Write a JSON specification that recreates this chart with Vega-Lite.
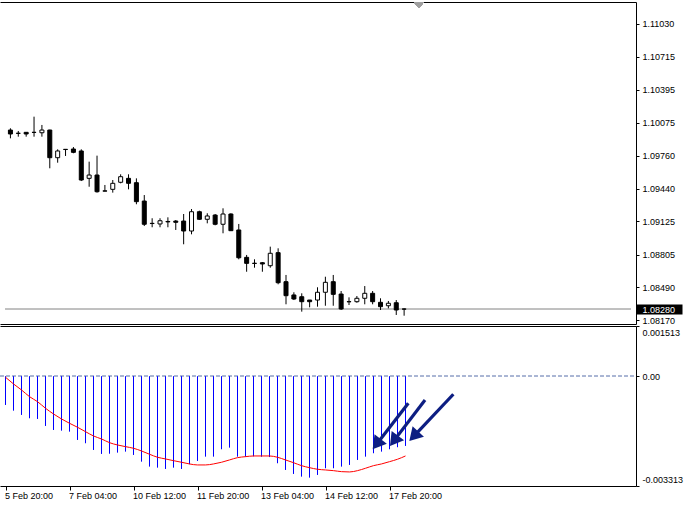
{
  "$schema": "https://vega.github.io/schema/vega-lite/v6.json",
  "background": "white",
  "padding": {"left": 0, "top": 2, "right": 0, "bottom": 0},
  "bounds": "flush",
  "spacing": 2,
  "config": {
    "view": {"stroke": null},
    "axis": {"labelFont": "Liberation Sans", "labelFontSize": 9, "labelColor": "black", "domainColor": "black", "tickColor": "black", "grid": false, "labelOverlap": false, "labelBound": false}
  },
  "datasets": {
    "bars": [
      {"i": 0, "time": "5 Feb 20:00", "open": 1.10007, "high": 1.10024, "low": 1.09927, "close": 1.09969, "hist": -0.000869, "signal": -0.000033},
      {"i": 1, "time": "6 Feb 00:00", "open": 1.09976, "high": 1.09998, "low": 1.09943, "close": 1.09975, "hist": -0.001041, "signal": -0.000235},
      {"i": 2, "time": "6 Feb 04:00", "open": 1.09985, "high": 1.09987, "low": 1.09943, "close": 1.09969, "hist": -0.00117, "signal": -0.000416},
      {"i": 3, "time": "6 Feb 08:00", "open": 1.09985, "high": 1.10136, "low": 1.09943, "close": 1.09984, "hist": -0.00127, "signal": -0.000618},
      {"i": 4, "time": "6 Feb 12:00", "open": 1.09981, "high": 1.10056, "low": 1.09943, "close": 1.10007, "hist": -0.001291, "signal": -0.000769},
      {"i": 5, "time": "6 Feb 16:00", "open": 1.10007, "high": 1.1001, "low": 1.09638, "close": 1.0974, "hist": -0.001502, "signal": -0.000968},
      {"i": 6, "time": "6 Feb 20:00", "open": 1.0974, "high": 1.09821, "low": 1.09692, "close": 1.09805, "hist": -0.001623, "signal": -0.00114},
      {"i": 7, "time": "7 Feb 00:00", "open": 1.09821, "high": 1.09823, "low": 1.09757, "close": 1.09819, "hist": -0.001644, "signal": -0.001291},
      {"i": 8, "time": "7 Feb 04:00", "open": 1.09824, "high": 1.09843, "low": 1.09783, "close": 1.09792, "hist": -0.001674, "signal": -0.001421},
      {"i": 9, "time": "7 Feb 08:00", "open": 1.09805, "high": 1.09821, "low": 1.09515, "close": 1.09525, "hist": -0.001924, "signal": -0.001541},
      {"i": 10, "time": "7 Feb 12:00", "open": 1.09541, "high": 1.09702, "low": 1.0946, "close": 1.09573, "hist": -0.002024, "signal": -0.001674},
      {"i": 11, "time": "7 Feb 16:00", "open": 1.09573, "high": 1.0976, "low": 1.09403, "close": 1.09412, "hist": -0.002226, "signal": -0.001804},
      {"i": 12, "time": "7 Feb 20:00", "open": 1.0942, "high": 1.09477, "low": 1.09416, "close": 1.09418, "hist": -0.002346, "signal": -0.001894},
      {"i": 13, "time": "10 Feb 00:00", "open": 1.09435, "high": 1.09525, "low": 1.09403, "close": 1.09493, "hist": -0.00234, "signal": -0.002006},
      {"i": 14, "time": "10 Feb 04:00", "open": 1.09503, "high": 1.0958, "low": 1.09493, "close": 1.09557, "hist": -0.002307, "signal": -0.002075},
      {"i": 15, "time": "10 Feb 08:00", "open": 1.09541, "high": 1.0958, "low": 1.09435, "close": 1.09493, "hist": -0.002277, "signal": -0.002126},
      {"i": 16, "time": "10 Feb 12:00", "open": 1.09499, "high": 1.09541, "low": 1.09291, "close": 1.09316, "hist": -0.002377, "signal": -0.002175},
      {"i": 17, "time": "10 Feb 16:00", "open": 1.09322, "high": 1.0938, "low": 1.09081, "close": 1.09098, "hist": -0.002579, "signal": -0.002256},
      {"i": 18, "time": "10 Feb 20:00", "open": 1.09105, "high": 1.09156, "low": 1.09069, "close": 1.09107, "hist": -0.002729, "signal": -0.002355},
      {"i": 19, "time": "11 Feb 00:00", "open": 1.09101, "high": 1.09156, "low": 1.09069, "close": 1.09132, "hist": -0.00276, "signal": -0.002446},
      {"i": 20, "time": "11 Feb 04:00", "open": 1.09125, "high": 1.09165, "low": 1.09069, "close": 1.09121, "hist": -0.002799, "signal": -0.002497},
      {"i": 21, "time": "11 Feb 08:00", "open": 1.09129, "high": 1.09139, "low": 1.09043, "close": 1.09117, "hist": -0.00276, "signal": -0.002549},
      {"i": 22, "time": "11 Feb 12:00", "open": 1.09129, "high": 1.09197, "low": 1.08905, "close": 1.09033, "hist": -0.002799, "signal": -0.002597},
      {"i": 23, "time": "11 Feb 16:00", "open": 1.09033, "high": 1.09245, "low": 1.09001, "close": 1.09219, "hist": -0.002657, "signal": -0.002648},
      {"i": 24, "time": "11 Feb 20:00", "open": 1.09219, "high": 1.09229, "low": 1.0914, "close": 1.09146, "hist": -0.002558, "signal": -0.002678},
      {"i": 25, "time": "12 Feb 00:00", "open": 1.09146, "high": 1.09204, "low": 1.09107, "close": 1.09178, "hist": -0.002428, "signal": -0.002678},
      {"i": 26, "time": "12 Feb 04:00", "open": 1.09187, "high": 1.09197, "low": 1.09088, "close": 1.09098, "hist": -0.002428, "signal": -0.002648},
      {"i": 27, "time": "12 Feb 08:00", "open": 1.09098, "high": 1.09252, "low": 1.09011, "close": 1.09197, "hist": -0.002205, "signal": -0.002597},
      {"i": 28, "time": "12 Feb 12:00", "open": 1.09197, "high": 1.09204, "low": 1.09036, "close": 1.09036, "hist": -0.002156, "signal": -0.002527},
      {"i": 29, "time": "12 Feb 16:00", "open": 1.09043, "high": 1.09101, "low": 1.0876, "close": 1.08775, "hist": -0.002428, "signal": -0.002458},
      {"i": 30, "time": "12 Feb 20:00", "open": 1.08779, "high": 1.08802, "low": 1.0864, "close": 1.08721, "hist": -0.00243, "signal": -0.002428},
      {"i": 31, "time": "13 Feb 00:00", "open": 1.08722, "high": 1.0876, "low": 1.08679, "close": 1.0872, "hist": -0.00242, "signal": -0.002407},
      {"i": 32, "time": "13 Feb 04:00", "open": 1.08727, "high": 1.08734, "low": 1.0864, "close": 1.08715, "hist": -0.00243, "signal": -0.002407},
      {"i": 33, "time": "13 Feb 08:00", "open": 1.08698, "high": 1.08882, "low": 1.08679, "close": 1.08818, "hist": -0.00244, "signal": -0.002407},
      {"i": 34, "time": "13 Feb 12:00", "open": 1.08824, "high": 1.08866, "low": 1.08519, "close": 1.08534, "hist": -0.002627, "signal": -0.002446},
      {"i": 35, "time": "13 Feb 16:00", "open": 1.08544, "high": 1.08609, "low": 1.08326, "close": 1.08409, "hist": -0.002829, "signal": -0.002527},
      {"i": 36, "time": "13 Feb 20:00", "open": 1.08416, "high": 1.08442, "low": 1.08367, "close": 1.08377, "hist": -0.00295, "signal": -0.002609},
      {"i": 37, "time": "14 Feb 00:00", "open": 1.08399, "high": 1.08432, "low": 1.08255, "close": 1.08351, "hist": -0.003031, "signal": -0.002699},
      {"i": 38, "time": "14 Feb 04:00", "open": 1.08367, "high": 1.08368, "low": 1.08297, "close": 1.08351, "hist": -0.003061, "signal": -0.00276},
      {"i": 39, "time": "14 Feb 08:00", "open": 1.08367, "high": 1.0849, "low": 1.08303, "close": 1.08442, "hist": -0.00298, "signal": -0.002808},
      {"i": 40, "time": "14 Feb 12:00", "open": 1.08442, "high": 1.08592, "low": 1.08312, "close": 1.08538, "hist": -0.002778, "signal": -0.002829},
      {"i": 41, "time": "14 Feb 16:00", "open": 1.08544, "high": 1.08609, "low": 1.08312, "close": 1.08422, "hist": -0.002778, "signal": -0.00285},
      {"i": 42, "time": "14 Feb 20:00", "open": 1.08425, "high": 1.08454, "low": 1.08271, "close": 1.08281, "hist": -0.002729, "signal": -0.00288},
      {"i": 43, "time": "17 Feb 00:00", "open": 1.0835, "high": 1.08393, "low": 1.08319, "close": 1.08352, "hist": -0.002678, "signal": -0.002889},
      {"i": 44, "time": "17 Feb 04:00", "open": 1.08351, "high": 1.08406, "low": 1.08341, "close": 1.08384, "hist": -0.002527, "signal": -0.00285},
      {"i": 45, "time": "17 Feb 08:00", "open": 1.08384, "high": 1.08502, "low": 1.08326, "close": 1.08432, "hist": -0.002428, "signal": -0.002778},
      {"i": 46, "time": "17 Feb 12:00", "open": 1.08432, "high": 1.08454, "low": 1.08326, "close": 1.08351, "hist": -0.002325, "signal": -0.002699},
      {"i": 47, "time": "17 Feb 16:00", "open": 1.08345, "high": 1.08384, "low": 1.08271, "close": 1.08303, "hist": -0.002277, "signal": -0.002648},
      {"i": 48, "time": "17 Feb 20:00", "open": 1.08312, "high": 1.08358, "low": 1.08287, "close": 1.08336, "hist": -0.002205, "signal": -0.002579},
      {"i": 49, "time": "18 Feb 00:00", "open": 1.08341, "high": 1.08367, "low": 1.08223, "close": 1.08271, "hist": -0.002144, "signal": -0.002506},
      {"i": 50, "time": "18 Feb 04:00", "open": 1.0828, "high": 1.08287, "low": 1.08216, "close": 1.0828, "hist": -0.002105, "signal": -0.002407}
    ],
    "arrows": [
      {"id": 1, "tailI": 50.35, "tailV": -0.000817, "endI": 46.36, "endV": -0.002063, "tipI": 45.9, "tipV": -0.002205},
      {"id": 2, "tailI": 52.44, "tailV": -0.000718, "endI": 48.51, "endV": -0.00196, "tipI": 48.06, "tipV": -0.002105},
      {"id": 3, "tailI": 55.98, "tailV": -0.000546, "endI": 50.99, "endV": -0.001822, "tipI": 50.48, "tipV": -0.001954}
    ]
  },
  "vconcat": [
    {
      "width": 636,
      "height": 322,
      "data": {"name": "bars"},
      "resolve": {"axis": {"x": "independent"}},
      "layer": [
        {
          "mark": {"type": "rule", "color": "#c0c0c0", "strokeWidth": 1},
          "encoding": {
            "x": {"datum": -0.625, "type": "quantitative", "axis": null},
            "x2": {"datum": 78.8125},
            "y": {"datum": 1.0828, "type": "quantitative", "title": null,
              "scale": {"domain": [1.081359, 1.112422], "nice": false, "zero": false},
              "axis": {"orient": "right", "title": null,
                "values": [1.1103, 1.10715, 1.10395, 1.10075, 1.0976, 1.0944, 1.09125, 1.08805, 1.0849, 1.0828, 1.0817],
                "tickCount": 40, "format": ".5f", "labelFlush": false, "labelOverlap": false, "labelBound": false,
                "tickSize": {"condition": {"test": "datum.value == 1.0828", "value": 46}, "value": 3},
                "tickWidth": {"condition": {"test": "datum.value == 1.0828", "value": 10}, "value": 1},
                "labelPadding": {"condition": {"test": "datum.value == 1.0828", "value": -40}, "value": 3},
                "labelColor": {"condition": {"test": "datum.value == 1.0828", "value": "white"}, "value": "black"}}}
          }
        },
        {
          "mark": {"type": "rule", "color": "black", "strokeWidth": 1},
          "encoding": {
            "x": {"field": "i", "type": "quantitative", "title": null,
              "scale": {"domain": [-0.6875, 78.8125], "nice": false, "zero": false},
              "axis": {"orient": "bottom", "title": null, "labels": false, "ticks": false, "domain": true}},
            "y": {"field": "low", "type": "quantitative", "title": null},
            "y2": {"field": "high"}
          }
        },
        {
          "mark": {"type": "bar", "size": 4, "stroke": "black", "strokeWidth": 1},
          "encoding": {
            "x": {"field": "i", "type": "quantitative", "title": null,
              "axis": {"orient": "top", "title": null, "labels": false, "ticks": false, "domain": true}},
            "y": {"field": "open", "type": "quantitative", "title": null},
            "y2": {"field": "close"},
            "fill": {"condition": {"test": "datum.open > datum.close", "value": "black"}, "value": "white"}
          }
        },
        {
          "mark": {"type": "point", "shape": "M-1,0L1,0L0,1.2Z", "size": 100, "filled": true, "color": "#a0a0a0", "opacity": 1, "strokeWidth": 0},
          "encoding": {
            "x": {"datum": 51.875, "type": "quantitative", "axis": null},
            "y": {"datum": 1.112422, "type": "quantitative", "title": null}
          }
        }
      ]
    },
    {
      "width": 636,
      "height": 160,
      "resolve": {"axis": {"x": "independent"}},
      "layer": [
        {
          "data": {"name": "bars"},
          "mark": {"type": "rule", "color": "#a9b5d3", "strokeWidth": 1, "strokeDash": [3, 3]},
          "encoding": {
            "x": {"datum": -0.625, "type": "quantitative", "axis": null},
            "x2": {"datum": 78.8125},
            "y": {"datum": 0, "type": "quantitative", "title": null,
              "scale": {"domain": [-0.003313, 0.001513], "nice": false, "zero": false},
              "axis": {"orient": "right", "title": null, "values": [0.001513, 0, -0.003313], "tickCount": 40, "labelExpr": "datum.value == 0 ? '0.00' : (datum.value < 0 ? '-' + format(-datum.value, '.6f') : format(datum.value, '.6f'))", "tickSize": 3, "labelPadding": 3, "labelFlush": true, "labelFlushOffset": -2, "labelOverlap": false, "labelBound": false}}
          }
        },
        {
          "data": {"name": "bars"},
          "mark": {"type": "rule", "color": "#0000ff", "strokeWidth": 1},
          "encoding": {
            "x": {"field": "i", "type": "quantitative", "title": null,
              "scale": {"domain": [-0.6875, 78.8125], "nice": false, "zero": false},
              "axis": {"orient": "bottom", "title": null, "values": [0, 8, 16, 24, 32, 40, 48], "tickCount": 40, "labelExpr": "['5 Feb 20:00','7 Feb 04:00','10 Feb 12:00','11 Feb 20:00','13 Feb 04:00','14 Feb 12:00','17 Feb 20:00'][round(datum.value / 8)]", "labelAlign": "left", "labelOffset": -1, "labelFlush": false, "labelOverlap": false, "labelBound": false, "tickSize": 4, "labelPadding": 1, "domain": true}},
            "y": {"field": "hist", "type": "quantitative", "title": null},
            "y2": {"datum": 0}
          }
        },
        {
          "data": {"name": "bars"},
          "mark": {"type": "line", "color": "#ff0000", "strokeWidth": 1, "interpolate": "monotone"},
          "encoding": {
            "x": {"field": "i", "type": "quantitative", "title": null,
              "axis": {"orient": "top", "title": null, "labels": false, "ticks": false, "domain": true}},
            "y": {"field": "signal", "type": "quantitative", "title": null}
          }
        },
        {
          "data": {"name": "arrows"},
          "mark": {"type": "rule", "color": "#0d1e82", "strokeWidth": 3.2, "strokeCap": "butt"},
          "encoding": {
            "x": {"field": "tailI", "type": "quantitative", "axis": null},
            "y": {"field": "tailV", "type": "quantitative", "title": null},
            "x2": {"field": "endI"},
            "y2": {"field": "endV"}
          }
        },
        {
          "data": {"name": "arrows"},
          "transform": [{"filter": "datum.id == 1"}],
          "mark": {"type": "point", "shape": "M0,0L-0.6,1L0.6,1Z", "size": 676, "filled": true, "color": "#0d1e82", "opacity": 1, "strokeWidth": 0, "angle": 217.8},
          "encoding": {
            "x": {"field": "tipI", "type": "quantitative", "axis": null},
            "y": {"field": "tipV", "type": "quantitative", "title": null}
          }
        },
        {
          "data": {"name": "arrows"},
          "transform": [{"filter": "datum.id == 2"}],
          "mark": {"type": "point", "shape": "M0,0L-0.6,1L0.6,1Z", "size": 676, "filled": true, "color": "#0d1e82", "opacity": 1, "strokeWidth": 0, "angle": 217.3},
          "encoding": {
            "x": {"field": "tipI", "type": "quantitative", "axis": null},
            "y": {"field": "tipV", "type": "quantitative", "title": null}
          }
        },
        {
          "data": {"name": "arrows"},
          "transform": [{"filter": "datum.id == 3"}],
          "mark": {"type": "point", "shape": "M0,0L-0.6,1L0.6,1Z", "size": 676, "filled": true, "color": "#0d1e82", "opacity": 1, "strokeWidth": 0, "angle": 223.3},
          "encoding": {
            "x": {"field": "tipI", "type": "quantitative", "axis": null},
            "y": {"field": "tipV", "type": "quantitative", "title": null}
          }
        }
      ]
    }
  ]
}
